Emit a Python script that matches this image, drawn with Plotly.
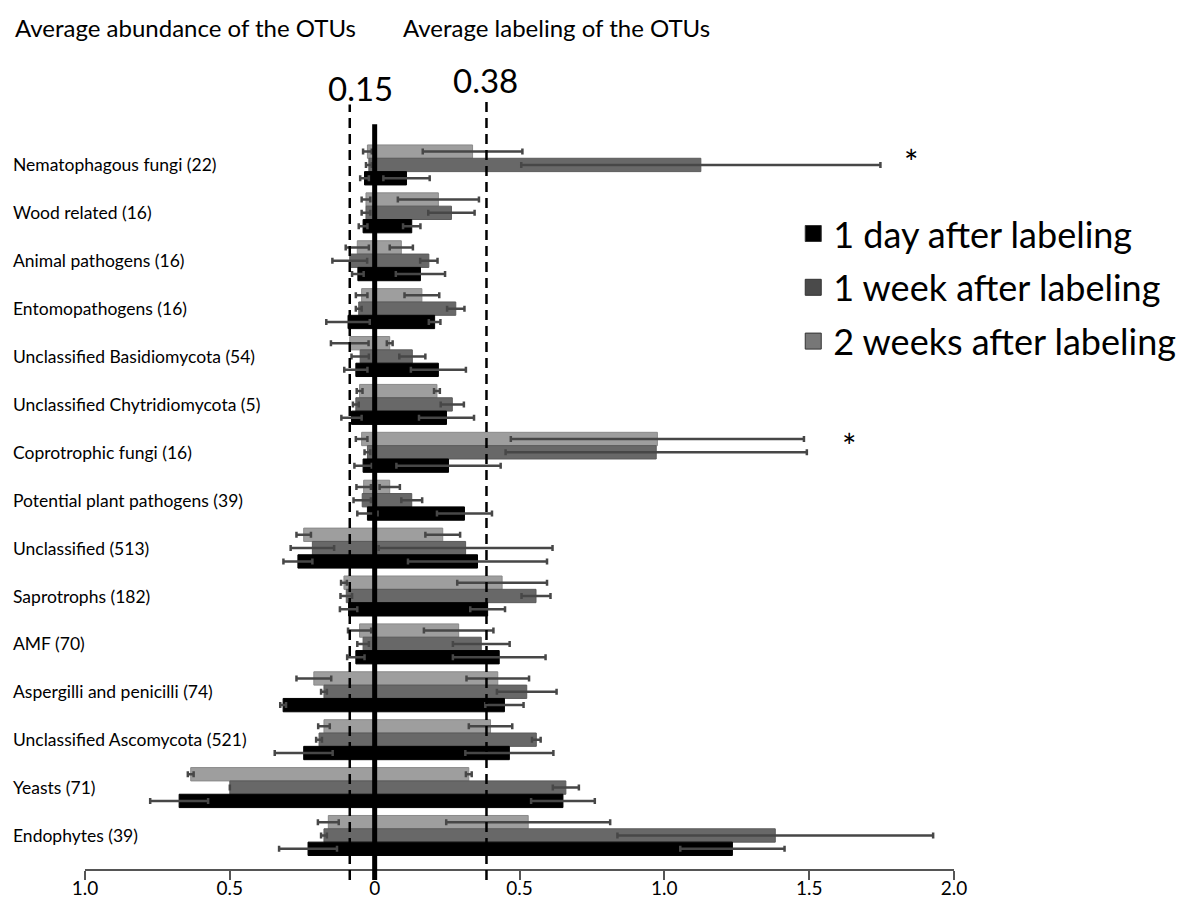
import plotly.graph_objects as go

categories = ["Nematophagous fungi (22)", "Wood related (16)", "Animal pathogens (16)",
              "Entomopathogens (16)", "Unclassified Basidiomycota (54)",
              "Unclassified Chytridiomycota (5)", "Coprotrophic fungi (16)",
              "Potential plant pathogens (39)", "Unclassified (513)", "Saprotrophs (182)",
              "AMF (70)", "Aspergilli and penicilli (74)", "Unclassified Ascomycota (521)",
              "Yeasts (71)", "Endophytes (39)"]

series_names = ["1 day after labeling", "1 week after labeling", "2 weeks after labeling"]

# Average labeling (right side)
label_1day = [0.11, 0.128, 0.158, 0.207, 0.22, 0.248, 0.255, 0.31, 0.355, 0.39, 0.43, 0.448, 0.465, 0.65, 1.235]
label_1day_err = [0.08, 0.03, 0.085, 0.02, 0.095, 0.095, 0.18, 0.095, 0.24, 0.06, 0.16, 0.066, 0.152, 0.11, 0.18]
label_1week = [1.126, 0.265, 0.187, 0.28, 0.13, 0.268, 0.972, 0.128, 0.314, 0.557, 0.368, 0.525, 0.558, 0.66, 1.383]
label_1week_err = [0.62, 0.08, 0.03, 0.03, 0.045, 0.04, 0.52, 0.036, 0.30, 0.05, 0.098, 0.103, 0.015, 0.045, 0.545]
label_2weeks = [0.338, 0.22, 0.092, 0.163, 0.052, 0.215, 0.976, 0.052, 0.235, 0.44, 0.29, 0.425, 0.40, 0.325, 0.53]
label_2weeks_err = [0.172, 0.14, 0.04, 0.06, 0.01, 0.01, 0.506, 0.035, 0.06, 0.155, 0.12, 0.108, 0.075, 0.01, 0.283]

# Average abundance (left side, drawn as negative)
abund_1day = [-0.035, -0.04, -0.058, -0.092, -0.065, -0.08, -0.04, -0.025, -0.265, -0.09, -0.065, -0.316, -0.245, -0.675, -0.23]
abund_1day_err = [0.015, 0.015, 0.02, 0.075, 0.04, 0.035, 0.03, 0.035, 0.05, 0.03, 0.03, 0.01, 0.1, 0.1, 0.1]
abund_1week = [-0.02, -0.03, -0.086, -0.055, -0.05, -0.065, -0.025, -0.043, -0.215, -0.098, -0.04, -0.175, -0.192, -0.5, -0.175]
abund_1week_err = [0.01, 0.015, 0.06, 0.01, 0.03, 0.01, 0.01, 0.03, 0.075, 0.02, 0.02, 0.01, 0.01, 0.0, 0.01]
abund_2weeks = [-0.025, -0.03, -0.06, -0.045, -0.086, -0.052, -0.045, -0.038, -0.245, -0.106, -0.052, -0.21, -0.175, -0.635, -0.16]
abund_2weeks_err = [0.015, 0.015, 0.04, 0.02, 0.065, 0.01, 0.02, 0.025, 0.025, 0.01, 0.04, 0.06, 0.02, 0.01, 0.036]

tick_vals = [-1.0, -0.5, 0, 0.5, 1.0, 1.5, 2.0]
tick_text = ["1.0", "0.5", "0", "0.5", "1.0", "1.5", "2.0"]

abund_threshold = -0.086   # marked "0.15"
label_threshold = 0.386    # marked "0.38"

FONT = "Lato"
colors = ["#000000", "#686868", "#9e9e9e"]
legend_colors = ["#000000", "#4a4a4a", "#777777"]
line_colors = ["#000000", "#5a5a5a", "#8a8a8a"]
err_color = "#474747"

series = [
    (series_names[0], label_1day, label_1day_err, abund_1day, abund_1day_err),
    (series_names[1], label_1week, label_1week_err, abund_1week, abund_1week_err),
    (series_names[2], label_2weeks, label_2weeks_err, abund_2weeks, abund_2weeks_err),
]

fig = go.Figure()
# add in reversed order so that "2 weeks" sits at the top of each group (reversed y axis)
for idx in [2, 1, 0]:
    name, lv, le, av, ae = series[idx]
    for vals, errs in [(lv, le), (av, ae)]:
        fig.add_trace(go.Bar(
            y=categories, x=vals, orientation="h", name=name,
            offsetgroup=str(idx), legendgroup=str(idx),
            showlegend=False,
            marker=dict(color=colors[idx], line=dict(color=line_colors[idx], width=1)),
            error_x=dict(type="data", array=errs, visible=True, color=err_color,
                         thickness=2.5, width=3),
        ))

# legend entries (larger square swatches)
for idx in [0, 1, 2]:
    fig.add_trace(go.Scatter(
        x=[None], y=[None], mode="markers", name=series_names[idx],
        legendgroup=str(idx), legendrank=idx + 1, showlegend=True,
        marker=dict(symbol="square", size=16, color=legend_colors[idx],
                    line=dict(color="#333333", width=1)),
    ))

shapes = [
    dict(type="line", xref="x", yref="paper", x0=0, x1=0, y0=-0.015, y1=1.023,
         line=dict(color="black", width=5), layer="above"),
    dict(type="line", xref="x", yref="paper", x0=abund_threshold, x1=abund_threshold,
         y0=-0.015, y1=1.05, line=dict(color="black", width=2.5, dash="10px,6px"), layer="above"),
    dict(type="line", xref="x", yref="paper", x0=label_threshold, x1=label_threshold,
         y0=-0.015, y1=1.057, line=dict(color="black", width=2.5, dash="10px,6px"), layer="above"),
]

annotations = []
for c in categories:
    annotations.append(dict(xref="paper", yref="y", x=-0.085, y=c, text=c, showarrow=False,
                            xanchor="left", yanchor="middle",
                            font=dict(family=FONT, size=17.5, color="black")))
annotations += [
    dict(xref="paper", yref="paper", x=-0.083, y=1.1565, text="Average abundance of the OTUs",
         showarrow=False, xanchor="left", yanchor="middle", font=dict(family=FONT, size=24, color="black")),
    dict(xref="paper", yref="paper", x=0.3636, y=1.1565, text="Average labeling of the OTUs",
         showarrow=False, xanchor="left", yanchor="middle", font=dict(family=FONT, size=24, color="black")),
    dict(xref="paper", yref="paper", x=0.3176, y=1.0727, text="0.15",
         showarrow=False, xanchor="center", yanchor="middle", font=dict(family=FONT, size=33, color="black")),
    dict(xref="paper", yref="paper", x=0.4603, y=1.0837, text="0.38",
         showarrow=False, xanchor="center", yanchor="middle", font=dict(family=FONT, size=33, color="black")),
    dict(xref="x", yref="y", x=1.85, y=categories[0], yshift=3, text="*",
         showarrow=False, xanchor="center", yanchor="middle", font=dict(family=FONT, size=34, color="black")),
    dict(xref="x", yref="y", x=1.636, y=categories[6], yshift=7, text="*",
         showarrow=False, xanchor="center", yanchor="middle", font=dict(family=FONT, size=34, color="black")),
]

fig.update_layout(
    width=1184, height=901,
    margin=dict(l=85, r=230, t=141, b=32, autoexpand=False),
    paper_bgcolor="white", plot_bgcolor="white",
    barmode="group", bargap=0.165, bargroupgap=0,
    font=dict(family=FONT, color="black"),
    xaxis=dict(range=[-1.0, 2.0], tickvals=tick_vals, ticktext=tick_text,
               showline=True, linecolor="#555555", linewidth=2,
               ticks="outside", ticklen=9, tickwidth=2, tickcolor="#555555",
               ticklabelstandoff=-8,
               showgrid=False, zeroline=False, tickfont=dict(family=FONT, size=19, color="black")),
    yaxis=dict(type="category", categoryorder="array", categoryarray=categories,
               range=[14.7, -0.5], showticklabels=False, showgrid=False,
               zeroline=False, showline=False, ticks=""),
    legend=dict(x=0.815, y=0.914, xanchor="left", yanchor="top",
                font=dict(family=FONT, size=36, color="black"),
                bgcolor="rgba(0,0,0,0)", traceorder="grouped", tracegroupgap=4,
                itemsizing="trace"),
    shapes=shapes, annotations=annotations,
)

fig.write_html("out.html", config={"displayModeBar": False},
               post_script="document.body.style.margin='0';document.body.style.overflow='hidden';")
